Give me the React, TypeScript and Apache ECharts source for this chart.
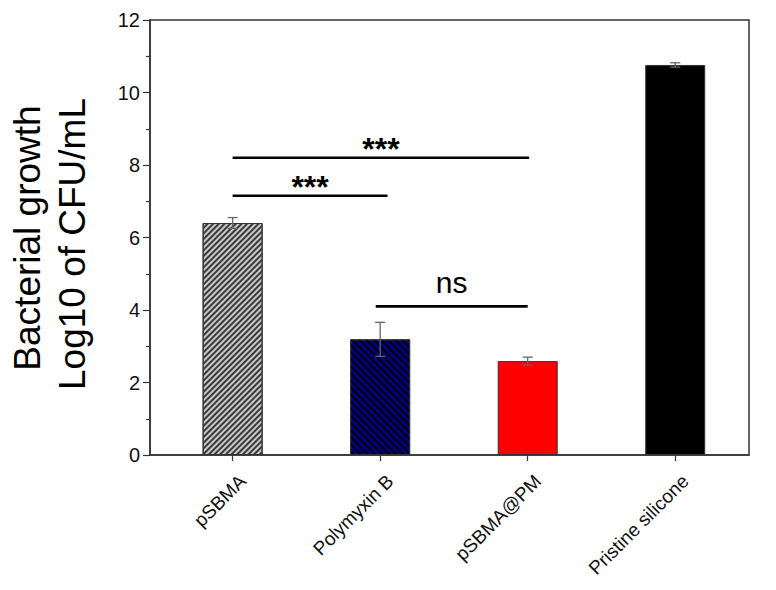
import React, { useEffect, useRef } from "react";
import * as echarts from "echarts";

const categories = ["pSBMA", "Polymyxin B", "pSBMA@PM", "Pristine silicone"];
const means = [6.4, 3.19, 2.59, 10.76];
const errors = [0.15, 0.47, 0.11, 0.06];
const barColors = ["#c8c8c8", "#000080", "#ff0000", "#000000"];
const hatchColors = ["#3a3a3a", "#000000", null, null];
const hatchRotation = [-Math.PI / 4, Math.PI / 4, 0, 0];
const hatchDash = [[1.2, 1.8], [1.3, 2.2], null, null];

const sigFrom = [0, 0, 0.97];
const sigTo = [1.05, 2.01, 2.0];
const sigY = [7.15, 8.2, 4.1];
const sigLabels = ["***", "***", "ns"];

const yTicks = { min: 0, max: 12, interval: 2 };
const tickPositions = [0, 1, 2, 3];

const FONT = "'Liberation Sans', Arial, sans-serif";

export default function App() {
  const ref = useRef<HTMLDivElement>(null);
  useEffect(() => {
    if (!ref.current) return;
    const chart = echarts.init(ref.current, null, { renderer: "svg" });
    const barData = means.map((v, i) => {
      const item: any = {
        value: [i, v],
        itemStyle: { color: barColors[i], borderColor: "#333", borderWidth: 1 },
      };
      if (hatchColors[i]) {
        item.itemStyle.decal = {
          symbol: "rect",
          symbolSize: 1,
          dashArrayX: [1, 0],
          dashArrayY: hatchDash[i],
          rotation: hatchRotation[i],
          color: hatchColors[i],
        };
      }
      return item;
    });
    const errData = errors.map((e, i) => [i, means[i] - e, means[i] + e]);
    const sigData = sigLabels.map((_, i) => [sigFrom[i], sigTo[i], sigY[i], i]);

    chart.setOption({
      animation: false,
      backgroundColor: "#ffffff",
      grid: {
        left: 150,
        top: 20,
        right: 27,
        bottom: 135,
        show: true,
        borderColor: "#333",
        borderWidth: 1.5,
        backgroundColor: "transparent",
      },
      xAxis: {
        type: "value",
        min: -0.56,
        max: 3.5,
        splitLine: { show: false },
        axisLine: { show: true, onZero: false, lineStyle: { color: "#333", width: 1.5 } },
        axisTick: {
          show: true,
          customValues: tickPositions,
          length: 6,
          lineStyle: { color: "#333", width: 1.2 },
        },
        axisLabel: {
          // labels sit slightly right of their tick, as in the reference
          customValues: tickPositions.map((t) => t + 0.068),
          formatter: (v: number) => categories[Math.round(v)] ?? "",
          rotate: 45,
          margin: 23,
          fontSize: 19,
          color: "#111",
          fontFamily: FONT,
        },
      },
      yAxis: {
        type: "value",
        min: yTicks.min,
        max: yTicks.max,
        interval: yTicks.interval,
        splitLine: { show: false },
        axisLine: { show: true, onZero: false, lineStyle: { color: "#333", width: 1.5 } },
        axisTick: { show: true, length: 7, lineStyle: { color: "#333", width: 1.2 } },
        minorTick: { show: true, splitNumber: 2, length: 4, lineStyle: { color: "#333", width: 1.2 } },
        axisLabel: { fontSize: 20, color: "#111", fontFamily: FONT, margin: 10 },
      },
      graphic: [
        {
          type: "text",
          x: 27,
          y: 238,
          rotation: Math.PI / 2,
          style: {
            text: "Bacterial growth",
            fontSize: 37,
            fontFamily: FONT,
            fill: "#000",
            align: "center",
            verticalAlign: "middle",
          },
        },
        {
          type: "text",
          x: 72,
          y: 244,
          rotation: Math.PI / 2,
          style: {
            text: "Log10 of CFU/mL",
            fontSize: 37,
            fontFamily: FONT,
            fill: "#000",
            align: "center",
            verticalAlign: "middle",
          },
        },
      ],
      series: [
        {
          type: "bar",
          barWidth: 60,
          data: barData,
          z: 2,
        },
        {
          type: "custom",
          z: 5,
          data: errData,
          renderItem: (params: any, api: any) => {
            const x = api.value(0);
            const lo = api.coord([x, api.value(1)]);
            const hi = api.coord([x, api.value(2)]);
            const style = { stroke: "#666", lineWidth: 1.3 };
            return {
              type: "group",
              children: [
                { type: "line", shape: { x1: lo[0], y1: lo[1], x2: hi[0], y2: hi[1] }, style },
                { type: "line", shape: { x1: hi[0] - 5, y1: hi[1], x2: hi[0] + 5, y2: hi[1] }, style },
                { type: "line", shape: { x1: lo[0] - 5, y1: lo[1], x2: lo[0] + 5, y2: lo[1] }, style },
              ],
            };
          },
        },
        {
          type: "custom",
          z: 6,
          data: sigData,
          renderItem: (params: any, api: any) => {
            const y = api.value(2);
            const p1 = api.coord([api.value(0), y]);
            const p2 = api.coord([api.value(1), y]);
            const idx = api.value(3);
            const label = sigLabels[idx];
            const isStar = label === "***";
            return {
              type: "group",
              children: [
                {
                  type: "line",
                  shape: { x1: p1[0], y1: p1[1], x2: p2[0], y2: p2[1] },
                  style: { stroke: "#000", lineWidth: 2.6 },
                },
                {
                  type: "text",
                  x: (p1[0] + p2[0]) / 2,
                  y: p1[1] + (isStar ? 7 : -9),
                  style: {
                    text: label,
                    fontSize: isStar ? 32 : 30,
                    fontWeight: isStar ? "bold" : "normal",
                    fontFamily: FONT,
                    fill: "#000",
                    align: "center",
                    verticalAlign: "bottom",
                  },
                },
              ],
            };
          },
        },
      ],
    });
    return () => chart.dispose();
  }, []);
  return (
    <div
      ref={ref}
      style={{ position: "fixed", left: 0, top: 0, width: 776, height: 590, background: "#fff" }}
    />
  );
}
